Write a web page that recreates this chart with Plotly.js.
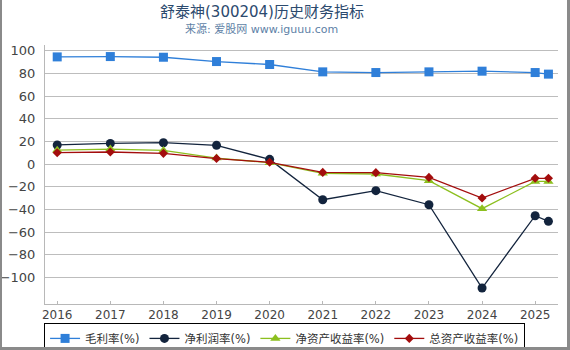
<!DOCTYPE html>
<html><head><meta charset="utf-8">
<script src="https://cdn.plot.ly/plotly-3.0.1.min.js"></script>
<style>html,body{margin:0;padding:0;background:#fff;}#wrap{position:relative;width:570px;height:350px;overflow:hidden;}
.b{position:absolute;background:#8a8a8a;}</style>
</head><body>
<div id="wrap"><div id="chart" style="width:570px;height:350px;"></div>
<div class="b" style="left:0;top:0;width:2px;height:350px;"></div>
<div class="b" style="left:567px;top:0;width:3px;height:350px;"></div>
<div class="b" style="left:0;top:347px;width:570px;height:3px;"></div>
</div>
<script>
const xVals = [2016, 2017, 2018, 2019, 2020, 2021, 2022, 2023, 2024, 2025, 2025.25];
const tickVals = [2016, 2017, 2018, 2019, 2020, 2021, 2022, 2023, 2024, 2025];
const tickText = ['2016','2017','2018','2019','2020','2021','2022','2023','2024','2025'];
const grossMargin = [94.5, 94.8, 94.2, 90.4, 87.8, 81.3, 80.7, 81.3, 81.9, 80.7, 79.3];
const netMargin = [16.8, 18.2, 18.8, 16.5, 4.1, -31.5, -23.5, -35.9, -109.4, -45.6, -50.6];
const roe = [12.2, 13.2, 12.0, 5.2, 1.2, -8.2, -8.8, -14.7, -39.4, -15.4, -15.4];
const roa = [10.0, 10.6, 9.4, 4.8, 1.5, -7.4, -7.6, -11.8, -30.0, -12.6, -12.6];
const names = ['毛利率(%)', '净利润率(%)', '净资产收益率(%)', '总资产收益率(%)'];
const titleText = '舒泰神(300204)历史财务指标';
const subtitleText = '来源: 爱股网 www.iguuu.com';

const F = 'DejaVu Sans, Noto Sans CJK SC, sans-serif';
function tr(y, name, color, sym, size) {
  return {x: xVals, y: y, name: name, type: 'scatter', mode: 'lines+markers',
    line: {color: color, width: 1.3}, marker: {symbol: sym, size: size, color: color}};
}
const data = [
  tr(grossMargin, names[0], '#2f7fd9', 'square', 9),
  tr(netMargin, names[1], '#13243d', 'circle', 9),
  tr(roe, names[2], '#8cbf1f', 'triangle-up', 9),
  tr(roa, names[3], '#a30d0d', 'diamond', 7)
];
const layout = {
  width: 570, height: 350,
  margin: {l: 45, r: 12, t: 45, b: 46, autoexpand: false},
  paper_bgcolor: '#fff', plot_bgcolor: '#fff',
  annotations: [
    {text: titleText, xref: 'paper', yref: 'paper', x: 0.423, y: 1.127, xanchor: 'center', yanchor: 'middle',
      showarrow: false, font: {family: F, size: 15, color: '#2c4a6e'}},
    {text: subtitleText, xref: 'paper', yref: 'paper', x: 0.423, y: 1.062, xanchor: 'center', yanchor: 'middle',
      showarrow: false, font: {family: F, size: 11, color: '#5d7fa6'}}
  ],
  xaxis: {range: [2015.77, 2025.43], tickvals: tickVals, ticktext: tickText, showgrid: false,
    showline: true, linecolor: '#b8b8b8', linewidth: 1, ticks: 'inside', ticklen: 3, tickcolor: '#b8b8b8',
    tickfont: {family: F, size: 12, color: '#444'}, zeroline: false},
  yaxis: {range: [-123.5, 105], tickvals: [-100,-80,-60,-40,-20,0,20,40,60,80,100],
    showgrid: true, gridcolor: '#bdbdbd', gridwidth: 1, showline: true, linecolor: '#b8b8b8',
    ticks: 'outside', ticklen: 6, tickcolor: 'rgba(0,0,0,0)', zeroline: false,
    tickfont: {family: F, size: 13, color: '#444'}},
  showlegend: true,
  legend: {orientation: 'h', x: 0.467, xanchor: 'center', y: -0.073, yanchor: 'top',
    bordercolor: '#000', borderwidth: 1, bgcolor: '#fff', font: {family: F, size: 11.5, color: '#333'},
    itemwidth: 30, tracegroupgap: 0},
};
Plotly.newPlot('chart', data, layout, {displayModeBar: false, staticPlot: true});
</script>
</body></html>
